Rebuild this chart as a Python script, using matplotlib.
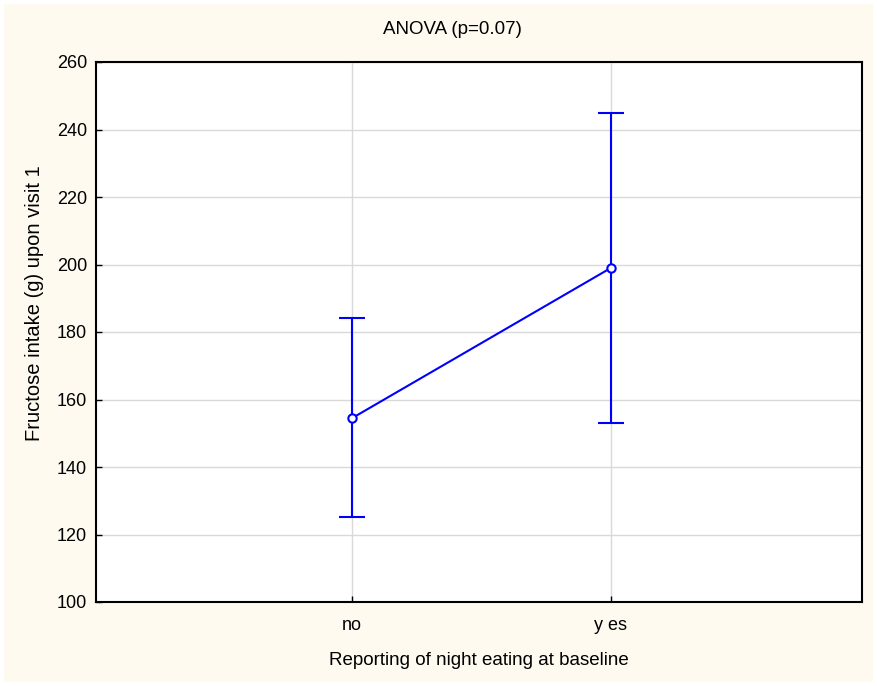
import matplotlib
matplotlib.use("Agg")
import matplotlib.pyplot as plt
from matplotlib.patches import Rectangle

plt.rcParams['font.family'] = ['Liberation Sans', 'DejaVu Sans']

groups = ['no', 'yes']
means = [154.5, 199.0]
upper = [184.1, 244.9]
lower = [125.2, 153.0]
yticks = [100, 120, 140, 160, 180, 200, 220, 240, 260]

xpos = list(range(len(groups)))
err_low = [m - l for m, l in zip(means, lower)]
err_high = [u - m for m, u in zip(means, upper)]

fig = plt.figure(figsize=(8.77, 6.86), dpi=100, facecolor='white')
# cream panel behind everything
fig.patches.append(Rectangle((4 / 877, 4 / 686), 869 / 877, 678 / 686,
                             transform=fig.transFigure, facecolor='#fefaf0',
                             edgecolor='none', zorder=-10))

ax = fig.add_axes([96 / 877, 1 - 602 / 686, 766 / 877, 540 / 686])
ax.set_facecolor('white')

ax.errorbar(xpos, means, yerr=[err_low, err_high], color='#0000ff', lw=1.5,
            marker='o', markersize=6, markerfacecolor='white',
            markeredgecolor='#0000ff', markeredgewidth=1.5,
            capsize=9.5, capthick=1.5, zorder=3)

ax.set_xlim(-0.99, 1.97)
ax.set_ylim(100, 260)
ax.set_xticks(xpos)
ax.set_xticklabels(['no', 'y es'])
ax.set_yticks(yticks)
ax.grid(True, color='#d9d9d9', lw=1)
ax.set_axisbelow(True)
for s in ax.spines.values():
    s.set_linewidth(1.5)
    s.set_color('black')
ax.tick_params(axis='both', direction='in', length=4, width=1, labelsize=13,
               pad=6.5, colors='black')
ax.tick_params(axis='x', pad=11)

ax.set_title('ANOVA (p=0.07)', fontsize=13.5, pad=20.5, x=0.465)
ax.set_xlabel('Reporting of night eating at baseline', fontsize=13.5, labelpad=13)
ax.set_ylabel('Fructose intake (g) upon visit 1', fontsize=14.5, labelpad=10)
ax.yaxis.set_label_coords(-0.068, 0.554)

fig.savefig('out.png', dpi=100, facecolor=fig.get_facecolor())
